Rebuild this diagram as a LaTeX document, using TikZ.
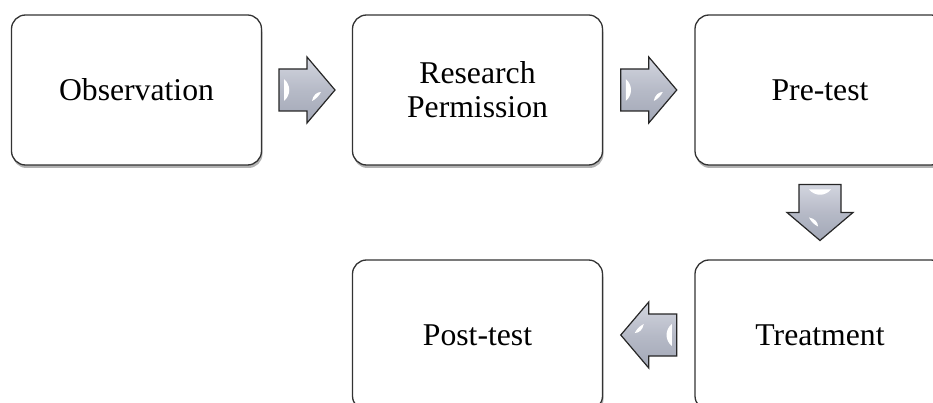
\documentclass[tikz,border=0pt]{standalone}
\usepackage{fontspec}
\setmainfont{Liberation Serif}
\usetikzlibrary{shadows,calc}
\definecolor{boxline}{HTML}{333333}
\definecolor{arrowtop}{HTML}{D3D6DF}
\definecolor{arrowmid}{HTML}{B6BAC7}
\definecolor{arrowbot}{HTML}{A2A7B6}
\tikzset{
  stepbox/.style={draw=boxline, line width=1.3pt, rounded corners=14pt, fill=white,
    minimum width=250pt, minimum height=150pt, inner sep=0pt, align=center,
    font=\fontsize{31.7}{34}\selectfont,
    drop shadow={shadow xshift=1pt, shadow yshift=-3pt, fill=black, opacity=0.3}},
  blockarrow/.pic={
    \path[draw=black!85, line width=1.2pt, line join=miter,
      top color=arrowtop, bottom color=arrowbot, middle color=arrowmid]
      (-28,-21) -- (0,-21) -- (0,-33) -- (28,0) -- (0,33) -- (0,21) -- (-28,21) -- cycle;
    \fill[white] (-23,-11) .. controls (-16,-5) and (-16,5) .. (-23,11) -- cycle;
    \fill[white] (5,11) .. controls (6,5) and (10,2) .. (14,2)
      .. controls (12,6) and (9,9) .. (5,11) -- cycle;
  }
}
\begin{document}
\begin{tikzpicture}[x=1pt,y=-1pt]
\useasboundingbox (0,0) rectangle (933,403);
\begin{scope}
\clip (0,0) rectangle (933,403);
\node[stepbox] (obs)   at (136.5,90)  {Observation};
\node[stepbox] (res)   at (477.5,90)  {Research\\Permission};
\node[stepbox] (pre)   at (820,90)    {Pre-test};
\node[stepbox] (treat) at (820,335)   {Treatment};
\node[stepbox] (post)  at (477.5,335) {Post-test};
\coordinate (a1) at ($(obs.east)!0.5!(res.west)$);
\coordinate (a2) at ($(res.east)!0.5!(pre.west)$);
\coordinate (a3) at ($(pre.south)!0.5!(treat.north)$);
\coordinate (a4) at ($(treat.west)!0.5!(post.east)$);
\pic at (a1) {blockarrow};
\pic at (a2) {blockarrow};
\pic[rotate=-90] at (a3) {blockarrow};
\pic[rotate=180] at (a4) {blockarrow};
\end{scope}
\end{tikzpicture}
\end{document}
